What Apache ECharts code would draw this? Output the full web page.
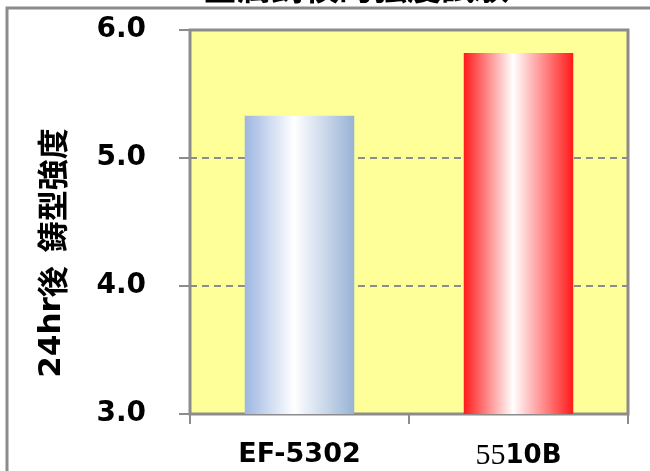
<!DOCTYPE html>
<html>
<head>
<meta charset="utf-8">
<script src="https://cdn.jsdelivr.net/npm/echarts@6/dist/echarts.min.js"></script>
<style>
html,body{margin:0;padding:0;background:#fff;}
#chart{width:650px;height:471px;}
</style>
</head>
<body>
<div id="chart"></div>
<script>
// Mold strength after 24 hours, two products
const categories = ['EF-5302', '5510B'];
const strengthValues = [5.33, 5.82];
const yTicks = [3.0, 4.0, 5.0, 6.0];
const chartTitle = '金属鋳模的強度試験';
const yAxisNameLatin = '24hr';
const yAxisNameCjk = ['後', '鋳型強度'];

const barGradients = [
  ['#9db6e2', '#ffffff', '#98b3d6'],
  ['#ff1a1a', '#ffffff', '#ff1a1a']
];

function gradient(stops) {
  return new echarts.graphic.LinearGradient(0, 0, 1, 0, [
    { offset: 0, color: stops[0] },
    { offset: 0.45, color: stops[1] },
    { offset: 1, color: stops[2] }
  ]);
}

const chart = echarts.init(document.getElementById('chart'), null, { renderer: 'canvas' });

const option = {
  animation: false,
  backgroundColor: '#ffffff',
  graphic: [
    {
      type: 'rect',
      shape: { x: 7, y: 8, width: 700, height: 520 },
      style: { fill: 'none', stroke: '#8c8c8c', lineWidth: 3 },
      z: 0
    },
    {
      type: 'text',
      left: 203,
      top: -30,
      style: {
        text: chartTitle,
        font: 'bold 34px "Noto Sans CJK JP"',
        fill: '#000'
      },
      z: 10
    },
    {
      // vertical value-axis title
      type: 'text',
      x: 52,
      y: 253,
      rotation: Math.PI / 2,
      style: {
        text: '{l|' + yAxisNameLatin + '}{c|' + yAxisNameCjk[0] + '}{g| }{c|' + yAxisNameCjk[1] + '}',
        align: 'center',
        verticalAlign: 'middle',
        rich: {
          l: { fontFamily: 'DejaVu Sans', fontWeight: 'bold', fontSize: 31, fill: '#000' },
          c: { fontFamily: 'Noto Sans CJK JP', fontWeight: 'bold', fontSize: 31, fill: '#000' },
          g: { fontFamily: 'DejaVu Sans', fontSize: 31, width: 14 }
        }
      },
      z: 10
    }
  ],
  grid: {
    left: 190,
    right: 22,
    top: 30,
    bottom: 57,
    show: true,
    backgroundColor: '#ffff99',
    borderColor: '#8c8c8c',
    borderWidth: 3
  },
  xAxis: {
    type: 'category',
    data: categories,
    boundaryGap: true,
    axisLine: { lineStyle: { color: '#8c8c8c', width: 2 } },
    axisTick: { show: true, length: 10, alignWithLabel: false, lineStyle: { color: '#8c8c8c', width: 2 } },
    axisLabel: {
      interval: 0,
      margin: 27,
      fontSize: 27,
      fontWeight: 'bold',
      fontFamily: 'DejaVu Sans',
      color: '#000',
      formatter: function (v) {
        if (v === '5510B') return '{s|55}{b|10B}';
        return v;
      },
      rich: {
        s: { fontFamily: 'Liberation Serif', fontWeight: 'normal', fontSize: 30, color: '#000' },
        b: { fontFamily: 'DejaVu Sans', fontWeight: 'bold', fontSize: 26, color: '#000' }
      }
    }
  },
  yAxis: {
    type: 'value',
    min: yTicks[0],
    max: yTicks[yTicks.length - 1],
    interval: 1,
    axisLine: { show: true, lineStyle: { color: '#8c8c8c', width: 2 } },
    axisTick: { show: true, length: 11, lineStyle: { color: '#8c8c8c', width: 2 } },
    axisLabel: {
      margin: 44,
      fontSize: 28,
      fontWeight: 'bold',
      fontFamily: 'DejaVu Sans',
      color: '#000',
      formatter: function (v) { return v.toFixed(1); }
    },
    splitLine: { show: true, lineStyle: { color: '#8c8c8c', type: [7, 5], width: 2 } }
  },
  series: [
    {
      type: 'bar',
      barWidth: '50%',
      data: strengthValues.map(function (v, i) {
        return { value: v, itemStyle: { color: gradient(barGradients[i]) } };
      }),
      z: 3
    }
  ]
};

chart.setOption(option);
</script>
</body>
</html>
